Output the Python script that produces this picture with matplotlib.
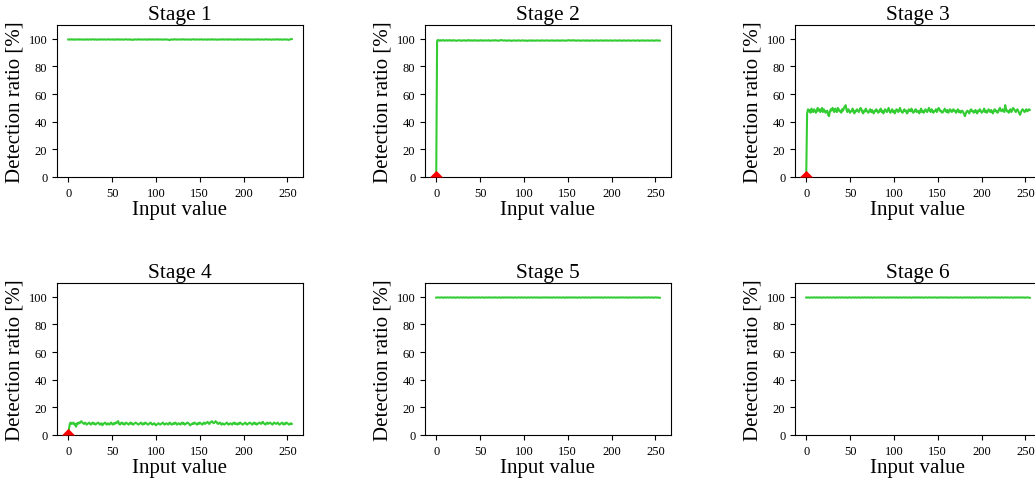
import numpy as np
import matplotlib.pyplot as plt

plt.rcParams['font.family'] = ['Liberation Serif', 'DejaVu Serif']

stage_titles = ['Stage 1', 'Stage 2', 'Stage 3', 'Stage 4', 'Stage 5', 'Stage 6']
input_values = list(range(256))

# detection ratio [%] per input value
stage1 = [
    99.5, 99.6, 99.4, 99.5, 99.7, 99.5, 99.3, 99.6, 99.5, 99.4, 99.6, 99.5, 99.7, 99.4, 99.5, 99.6,
    99.4, 99.5, 99.6, 99.3, 99.5, 99.7, 99.5, 99.4, 99.6, 99.5, 99.4, 99.6, 99.7, 99.5, 99.4, 99.6,
    99.5, 99.3, 99.5, 99.6, 99.4, 99.5, 99.7, 99.5, 99.4, 99.6, 99.5, 99.5, 99.4, 99.6, 99.7, 99.5,
    99.4, 99.5, 99.6, 99.5, 99.3, 99.6, 99.5, 99.4, 99.7, 99.5, 99.6, 99.4, 99.5, 99.6, 99.5, 99.3,
    99.5, 99.6, 99.7, 99.5, 99.4, 99.5, 99.6, 99.4, 99.5, 99.3, 99.2, 99.5, 99.6, 99.5, 99.4, 99.6,
    99.5, 99.7, 99.5, 99.4, 99.6, 99.5, 99.4, 99.5, 99.6, 99.5, 99.3, 99.6, 99.5, 99.7, 99.4, 99.5,
    99.6, 99.5, 99.4, 99.6, 99.5, 99.5, 99.7, 99.4, 99.5, 99.6, 99.5, 99.3, 99.5, 99.6, 99.4, 99.5,
    99.6, 99.4, 99.5, 99.2, 99.1, 99.5, 99.6, 99.4, 99.5, 99.7, 99.5, 99.6, 99.4, 99.5, 99.6, 99.5,
    99.4, 99.6, 99.5, 99.7, 99.5, 99.4, 99.6, 99.5, 99.5, 99.4, 99.6, 99.5, 99.3, 99.5, 99.6, 99.7,
    99.5, 99.4, 99.5, 99.6, 99.5, 99.4, 99.6, 99.5, 99.7, 99.5, 99.4, 99.5, 99.6, 99.5, 99.3, 99.6,
    99.5, 99.6, 99.4, 99.5, 99.7, 99.5, 99.4, 99.6, 99.5, 99.5, 99.3, 99.5, 99.6, 99.4, 99.5, 99.7,
    99.5, 99.6, 99.4, 99.5, 99.6, 99.5, 99.4, 99.7, 99.5, 99.6, 99.5, 99.4, 99.5, 99.6, 99.3, 99.5,
    99.6, 99.5, 99.7, 99.4, 99.5, 99.6, 99.5, 99.4, 99.6, 99.5, 99.5, 99.7, 99.4, 99.5, 99.6, 99.5,
    99.4, 99.6, 99.5, 99.3, 99.5, 99.6, 99.4, 99.5, 99.7, 99.5, 99.6, 99.4, 99.5, 99.6, 99.5, 99.4,
    99.5, 99.6, 99.7, 99.5, 99.4, 99.6, 99.5, 99.5, 99.3, 99.5, 99.6, 99.4, 99.5, 99.6, 99.5, 99.7,
    99.5, 99.4, 99.6, 99.5, 99.3, 99.5, 99.6, 99.5, 99.4, 99.6, 99.5, 99.2, 99.4, 99.6, 99.7, 99.8,
]

stage2 = [
    0.0, 98.5, 99.2, 98.8, 98.6, 99.0, 98.7, 98.9, 99.1, 98.8, 98.6, 98.9, 99.0, 98.7, 98.8, 99.1,
    98.9, 98.6, 98.8, 99.0, 98.7, 98.9, 98.8, 98.5, 98.7, 98.9, 99.0, 98.8, 98.6, 98.9, 98.7, 98.8,
    99.0, 98.7, 98.6, 98.9, 98.8, 99.1, 98.7, 98.8, 98.9, 98.6, 98.8, 99.0, 98.7, 98.9, 98.8, 98.6,
    98.9, 98.7, 98.8, 99.0, 98.8, 98.6, 98.9, 98.7, 98.8, 98.9, 98.7, 98.8, 99.0, 98.7, 98.6, 98.8,
    98.9, 98.8, 98.7, 99.0, 98.9, 98.8, 98.6, 98.8, 98.7, 98.9, 99.1, 99.0, 98.8, 98.7, 98.9, 98.8,
    98.6, 98.8, 98.7, 98.9, 98.8, 98.7, 98.5, 98.7, 98.8, 98.9, 98.7, 98.6, 98.8, 98.7, 98.9, 98.8,
    98.6, 98.7, 98.8, 98.9, 98.7, 98.6, 98.8, 98.7, 98.5, 98.7, 98.8, 98.7, 98.9, 98.6, 98.8, 98.7,
    98.8, 98.6, 98.7, 98.9, 98.8, 98.7, 98.6, 98.8, 98.7, 98.9, 98.8, 98.6, 98.7, 98.8, 98.9, 98.7,
    98.8, 98.7, 98.6, 98.8, 98.9, 98.7, 98.8, 98.6, 98.7, 98.8, 98.9, 98.7, 98.8, 98.6, 98.8, 98.7,
    98.9, 98.8, 98.7, 98.6, 98.8, 98.7, 98.9, 99.0, 98.8, 98.9, 98.7, 98.8, 99.0, 98.9, 98.7, 98.8,
    98.6, 98.8, 98.9, 98.7, 98.8, 98.6, 98.7, 98.9, 98.8, 98.7, 98.8, 98.6, 98.9, 98.7, 98.8, 98.5,
    98.7, 98.8, 98.9, 98.7, 98.6, 98.8, 98.7, 98.9, 98.8, 98.6, 98.7, 98.8, 98.9, 98.7, 98.8, 98.6,
    98.8, 98.7, 98.9, 98.8, 98.6, 98.7, 98.8, 98.9, 98.7, 98.6, 98.8, 98.7, 98.9, 98.8, 98.7, 98.6,
    98.8, 98.9, 98.7, 98.8, 98.6, 98.7, 98.9, 98.8, 98.7, 98.6, 98.8, 98.9, 98.7, 98.8, 98.6, 98.7,
    98.8, 98.9, 98.7, 98.6, 98.8, 98.7, 98.9, 98.8, 98.5, 98.7, 98.8, 98.9, 98.7, 98.8, 98.6, 98.8,
    98.7, 98.9, 98.8, 98.6, 98.7, 98.8, 98.9, 98.7, 98.6, 98.8, 98.7, 98.9, 98.8, 98.7, 98.8, 98.7,
]

stage3 = [
    0.0, 46.0, 49.0, 47.5, 48.5, 46.5, 49.5, 48.0, 47.0, 49.0, 48.0, 46.5, 47.5, 50.0, 48.0, 49.0,
    47.0, 48.5, 50.0, 47.0, 49.0, 48.0, 46.5, 47.5, 48.0, 45.0, 44.0, 47.5, 49.0, 48.0, 50.0, 48.5,
    47.0, 49.5, 48.0, 47.0, 50.0, 49.0, 47.5, 48.0, 46.5, 49.0, 48.0, 50.0, 51.0, 52.0, 48.5, 47.0,
    49.0, 48.0, 46.5, 47.5, 48.0, 49.5, 47.0, 46.0, 48.0, 47.5, 49.0, 48.0, 47.0, 48.5, 50.0, 49.0,
    47.0, 46.0, 48.0, 47.5, 49.5, 48.0, 47.0, 46.5, 48.0, 49.0, 47.0, 48.5, 47.0, 46.0, 48.0, 47.5,
    49.0, 48.0, 46.5, 47.0, 48.5, 49.5, 47.0, 48.0, 46.0, 47.5, 49.0, 48.0, 47.0, 48.5, 50.0, 47.5,
    46.5, 48.0, 49.0, 47.0, 48.0, 46.0, 47.5, 49.0, 48.5, 47.0, 48.0, 50.0, 48.0, 47.0, 46.5, 48.0,
    49.0, 47.5, 48.0, 46.0, 47.0, 49.0, 48.0, 47.5, 49.5, 48.0, 46.5, 47.0, 48.5, 49.0, 47.0, 48.0,
    47.5, 46.0, 48.0, 49.5, 47.0, 48.0, 46.5, 47.5, 49.0, 48.0, 47.0, 48.5, 50.0, 48.0, 47.0, 49.0,
    48.0, 46.5, 47.5, 48.0, 49.0, 47.0, 48.5, 50.0, 49.0, 47.5, 48.0, 46.5, 47.0, 48.0, 49.5, 48.0,
    47.0, 48.5, 46.5, 47.5, 49.0, 48.0, 47.0, 48.5, 49.0, 47.5, 48.0, 46.5, 48.0, 49.0, 47.0, 48.0,
    46.5, 47.5, 48.0, 47.0, 45.5, 44.0, 46.0, 47.5, 48.0, 47.0, 46.0, 48.0, 49.0, 47.5, 48.0, 46.5,
    47.0, 48.5, 47.0, 46.0, 48.0, 47.5, 49.0, 48.0, 46.5, 47.0, 48.0, 49.5, 47.0, 48.0, 46.5, 47.5,
    49.0, 48.0, 47.0, 48.5, 47.0, 46.0, 48.0, 49.0, 47.5, 48.0, 46.5, 47.0, 49.0, 50.0, 48.0, 47.5,
    49.0, 48.0, 47.0, 52.0, 49.0, 47.5, 48.0, 46.5, 48.0, 49.0, 47.0, 48.5, 50.0, 49.0, 48.0, 47.0,
    48.5, 49.0, 47.5, 46.0, 45.0, 47.0, 48.5, 49.0, 48.0, 47.0, 48.0, 49.0, 47.5, 48.0, 49.0, 48.5,
]

stage4 = [
    0.0, 5.0, 8.5, 9.0, 8.0, 8.5, 9.0, 7.5, 8.0, 6.0, 8.5, 8.0, 9.0, 8.5, 9.5, 10.0,
    9.0, 8.5, 8.0, 9.0, 8.5, 7.5, 8.0, 8.5, 9.0, 8.0, 7.5, 8.5, 9.0, 8.0, 8.5, 7.5,
    8.0, 8.5, 9.0, 8.5, 7.5, 8.0, 8.5, 7.0, 8.0, 8.5, 9.0, 8.0, 7.5, 8.5, 8.0, 7.5,
    8.5, 9.0, 8.0, 7.5, 8.5, 8.0, 9.0, 8.5, 9.5, 10.0, 8.0, 7.5, 8.5, 9.0, 8.0, 8.5,
    7.5, 8.0, 9.0, 8.5, 8.0, 7.5, 8.5, 9.0, 8.0, 8.5, 7.5, 8.0, 8.5, 9.0, 8.5, 8.0,
    7.5, 8.0, 8.5, 9.0, 8.0, 7.5, 8.5, 8.0, 9.0, 8.5, 8.0, 7.5, 8.0, 8.5, 9.0, 8.0,
    7.5, 8.0, 8.5, 8.0, 7.0, 7.5, 8.0, 8.5, 8.0, 7.5, 8.0, 8.5, 9.0, 8.0, 7.5, 8.0,
    8.5, 8.0, 7.5, 8.5, 9.0, 8.0, 7.5, 8.0, 8.5, 8.0, 9.0, 8.5, 7.5, 8.0, 8.5, 8.0,
    7.5, 8.5, 9.0, 8.0, 8.5, 7.5, 8.0, 8.5, 9.0, 8.5, 8.0, 7.0, 7.5, 8.0, 8.5, 8.0,
    9.0, 8.5, 8.0, 7.5, 8.5, 8.0, 9.0, 8.5, 8.0, 7.5, 8.5, 9.0, 8.0, 8.5, 9.0, 9.5,
    8.5, 8.0, 9.0, 9.5, 10.0, 9.0, 8.5, 9.0, 10.0, 9.5, 8.5, 8.0, 8.5, 9.0, 8.0, 7.5,
    8.5, 8.0, 7.5, 8.0, 8.5, 9.0, 8.0, 7.5, 8.0, 8.5, 8.0, 7.5, 8.5, 9.0, 8.0, 8.5,
    8.0, 7.5, 8.5, 8.0, 9.0, 8.5, 8.0, 7.5, 8.0, 8.5, 9.0, 8.0, 7.5, 8.0, 8.5, 9.0,
    8.5, 8.0, 7.5, 8.5, 9.0, 8.0, 8.5, 7.5, 8.0, 8.5, 9.0, 8.5, 8.0, 9.0, 9.5, 8.5,
    8.0, 7.5, 8.5, 9.0, 8.0, 8.5, 9.0, 8.5, 8.0, 7.5, 8.5, 9.0, 8.5, 8.0, 8.5, 9.0,
    8.0, 7.5, 8.0, 8.5, 9.0, 8.0, 7.5, 8.5, 8.0, 9.0, 8.5, 8.0, 7.5, 8.0, 8.5, 8.0,
]

stage5 = [
    99.4, 99.5, 99.6, 99.5, 99.4, 99.5, 99.6, 99.5, 99.3, 99.5, 99.6, 99.4, 99.5, 99.6, 99.5, 99.4,
    99.6, 99.5, 99.5, 99.4, 99.6, 99.5, 99.3, 99.5, 99.6, 99.5, 99.4, 99.5, 99.6, 99.5, 99.4, 99.6,
    99.5, 99.4, 99.6, 99.5, 99.5, 99.3, 99.5, 99.6, 99.4, 99.5, 99.6, 99.5, 99.4, 99.5, 99.6, 99.5,
    99.4, 99.6, 99.5, 99.4, 99.5, 99.6, 99.5, 99.3, 99.5, 99.6, 99.5, 99.4, 99.6, 99.5, 99.5, 99.4,
    99.5, 99.6, 99.4, 99.5, 99.6, 99.5, 99.4, 99.5, 99.6, 99.5, 99.3, 99.5, 99.6, 99.4, 99.5, 99.6,
    99.5, 99.4, 99.6, 99.5, 99.5, 99.4, 99.6, 99.5, 99.3, 99.5, 99.6, 99.5, 99.4, 99.5, 99.6, 99.5,
    99.4, 99.6, 99.5, 99.4, 99.5, 99.6, 99.5, 99.3, 99.5, 99.6, 99.4, 99.5, 99.6, 99.5, 99.4, 99.5,
    99.6, 99.5, 99.4, 99.6, 99.5, 99.5, 99.3, 99.5, 99.6, 99.4, 99.5, 99.6, 99.5, 99.4, 99.6, 99.5,
    99.5, 99.4, 99.6, 99.5, 99.3, 99.5, 99.6, 99.5, 99.4, 99.5, 99.6, 99.5, 99.4, 99.6, 99.5, 99.4,
    99.5, 99.6, 99.5, 99.3, 99.5, 99.6, 99.4, 99.5, 99.6, 99.5, 99.4, 99.6, 99.5, 99.5, 99.4, 99.6,
    99.5, 99.3, 99.5, 99.6, 99.5, 99.4, 99.5, 99.6, 99.5, 99.4, 99.6, 99.5, 99.4, 99.5, 99.6, 99.5,
    99.3, 99.5, 99.6, 99.4, 99.5, 99.6, 99.5, 99.4, 99.6, 99.5, 99.5, 99.4, 99.6, 99.5, 99.3, 99.5,
    99.6, 99.5, 99.4, 99.5, 99.6, 99.5, 99.4, 99.6, 99.5, 99.4, 99.5, 99.6, 99.5, 99.3, 99.5, 99.6,
    99.4, 99.5, 99.6, 99.5, 99.4, 99.6, 99.5, 99.5, 99.4, 99.6, 99.5, 99.3, 99.5, 99.6, 99.5, 99.4,
    99.5, 99.6, 99.5, 99.4, 99.6, 99.5, 99.4, 99.5, 99.6, 99.5, 99.3, 99.5, 99.6, 99.4, 99.5, 99.6,
    99.5, 99.4, 99.6, 99.5, 99.5, 99.4, 99.6, 99.5, 99.3, 99.5, 99.6, 99.5, 99.4, 99.5, 99.4, 99.3,
]

stage6 = [
    99.5, 99.4, 99.6, 99.5, 99.3, 99.5, 99.6, 99.4, 99.5, 99.6, 99.5, 99.4, 99.6, 99.5, 99.5, 99.4,
    99.6, 99.5, 99.3, 99.5, 99.6, 99.5, 99.4, 99.5, 99.6, 99.5, 99.4, 99.6, 99.5, 99.4, 99.5, 99.6,
    99.5, 99.3, 99.5, 99.6, 99.4, 99.5, 99.6, 99.5, 99.4, 99.6, 99.5, 99.5, 99.4, 99.6, 99.5, 99.3,
    99.5, 99.6, 99.5, 99.4, 99.5, 99.6, 99.5, 99.4, 99.6, 99.5, 99.4, 99.5, 99.6, 99.5, 99.3, 99.5,
    99.6, 99.4, 99.5, 99.6, 99.5, 99.4, 99.6, 99.5, 99.5, 99.4, 99.6, 99.5, 99.3, 99.5, 99.6, 99.5,
    99.4, 99.5, 99.6, 99.5, 99.4, 99.6, 99.5, 99.4, 99.5, 99.6, 99.5, 99.3, 99.5, 99.6, 99.4, 99.5,
    99.6, 99.5, 99.4, 99.6, 99.5, 99.5, 99.4, 99.6, 99.5, 99.3, 99.5, 99.6, 99.5, 99.4, 99.5, 99.6,
    99.5, 99.4, 99.6, 99.5, 99.4, 99.5, 99.6, 99.5, 99.3, 99.5, 99.6, 99.4, 99.5, 99.6, 99.5, 99.4,
    99.6, 99.5, 99.5, 99.4, 99.6, 99.5, 99.3, 99.5, 99.6, 99.5, 99.4, 99.5, 99.6, 99.5, 99.4, 99.6,
    99.5, 99.4, 99.5, 99.6, 99.5, 99.3, 99.5, 99.6, 99.4, 99.5, 99.6, 99.5, 99.4, 99.6, 99.5, 99.5,
    99.4, 99.6, 99.5, 99.3, 99.5, 99.6, 99.5, 99.4, 99.5, 99.6, 99.5, 99.4, 99.6, 99.5, 99.4, 99.5,
    99.6, 99.5, 99.3, 99.5, 99.6, 99.4, 99.5, 99.6, 99.5, 99.4, 99.6, 99.5, 99.5, 99.4, 99.6, 99.5,
    99.3, 99.5, 99.6, 99.5, 99.4, 99.5, 99.6, 99.5, 99.4, 99.6, 99.5, 99.4, 99.5, 99.6, 99.5, 99.3,
    99.5, 99.6, 99.4, 99.5, 99.6, 99.5, 99.4, 99.6, 99.5, 99.5, 99.4, 99.6, 99.5, 99.3, 99.5, 99.6,
    99.5, 99.4, 99.5, 99.6, 99.5, 99.4, 99.6, 99.5, 99.4, 99.5, 99.6, 99.5, 99.3, 99.5, 99.6, 99.4,
    99.5, 99.6, 99.5, 99.4, 99.6, 99.5, 99.5, 99.4, 99.6, 99.5, 99.3, 99.5, 99.6, 99.5, 99.4, 99.3,
]

stages = [stage1, stage2, stage3, stage4, stage5, stage6]

# flat triangle sitting on the x axis, as in the original
flat_tri = [(-1, 0), (1, 0), (0, 1), (-1, 0)]

fig = plt.figure(figsize=(10.35, 4.85), dpi=100)
W, H = 1035, 485
lefts = [57, 425, 795]
tops = [26, 284]
aw, ah = 246, 152

for i, (title, ratio) in enumerate(zip(stage_titles, stages)):
    r, c = divmod(i, 3)
    ax = fig.add_axes([lefts[c] / W, 1 - (tops[r] + ah) / H, aw / W, ah / H])
    ax.plot(input_values, ratio, color='#33cc33', lw=1.5)
    # zero-detection inputs marked in red
    zx = [x for x, v in zip(input_values, ratio) if v == 0]
    zy = [0 for _ in zx]
    ax.plot(zx, zy, ls='none', marker=flat_tri, color='red', ms=9.5, mew=0, zorder=5)
    ax.set_ylim(0, 110)
    ax.set_xlim(-12.8, 267.8)
    ax.set_xticks([0, 50, 100, 150, 200, 250])
    ax.set_yticks([0, 20, 40, 60, 80, 100])
    ax.tick_params(labelsize=9)
    ax.set_title(title, fontsize=15.5, pad=4)
    ax.set_xlabel('Input value', fontsize=15, labelpad=1)
    ax.set_ylabel('Detection ratio [%]', fontsize=15, labelpad=3)

fig.savefig('out.png', dpi=100)
